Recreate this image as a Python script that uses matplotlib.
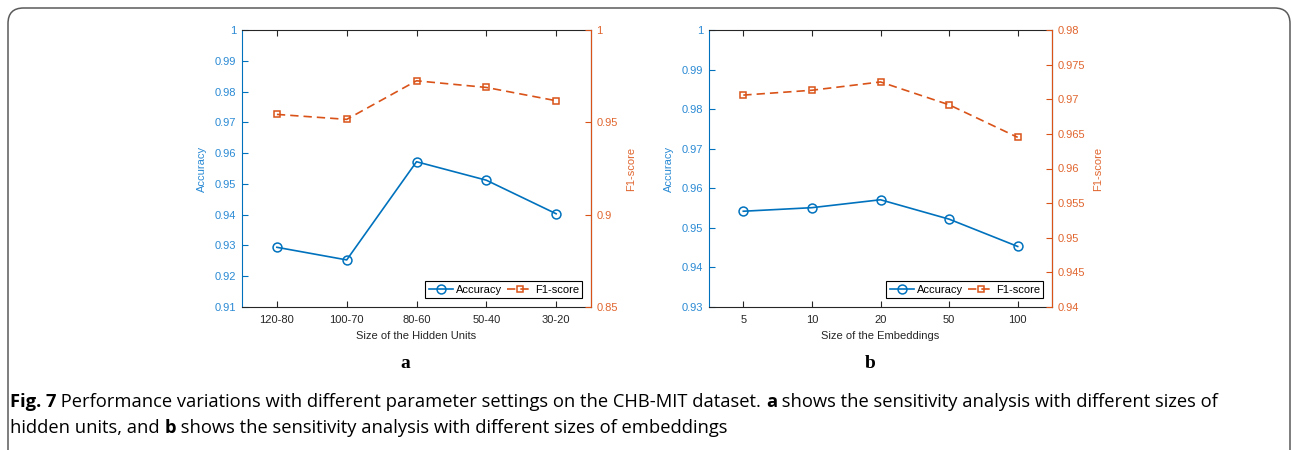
import matplotlib
matplotlib.use("Agg")
import matplotlib.pyplot as plt
from matplotlib.patches import FancyBboxPatch
from matplotlib.ticker import FixedLocator, FuncFormatter

# ---------------- data ----------------
hidden_labels = ["120-80", "100-70", "80-60", "50-40", "30-20"]
hidden_acc = [0.9294, 0.9253, 0.9572, 0.9512, 0.9403]
hidden_f1 = [0.9543, 0.9516, 0.9725, 0.9689, 0.9617]

emb_labels = ["5", "10", "20", "50", "100"]
emb_acc = [0.9542, 0.9551, 0.9571, 0.9522, 0.9453]
emb_f1 = [0.9706, 0.9713, 0.9725, 0.9692, 0.9645]

acc_ticks_a = [0.91, 0.92, 0.93, 0.94, 0.95, 0.96, 0.97, 0.98, 0.99, 1.0]
f1_ticks_a = [0.85, 0.9, 0.95, 1.0]
acc_ticks_b = [0.93, 0.94, 0.95, 0.96, 0.97, 0.98, 0.99, 1.0]
f1_ticks_b = [0.94, 0.945, 0.95, 0.955, 0.96, 0.965, 0.97, 0.975, 0.98]

BLUE = "#0072BD"
ORANGE = "#D95319"
BLUE_T = "#2a8ad4"
ORANGE_T = "#e0652e"
DARK = "#262626"

plt.rcParams["font.family"] = ["Liberation Sans", "DejaVu Sans"]
W, H = 1292, 450
fig = plt.figure(figsize=(W / 100, H / 100), dpi=100)

def fmt(v, pos):
    return ("%.4f" % v).rstrip("0").rstrip(".")

def panel(rect, labels, acc, f1, acc_ticks, f1_ticks, xlabel, letter, letter_x):
    ax = fig.add_axes(rect)
    x = list(range(1, len(labels) + 1))
    l1, = ax.plot(x, acc, color=BLUE, lw=1.2, marker="o", ms=6.4, mfc="none",
                  mew=1.1, label="Accuracy")
    ax.set_xlim(0.5, len(labels) + 0.5)
    ax.set_ylim(acc_ticks[0], acc_ticks[-1])
    ax.yaxis.set_major_locator(FixedLocator(acc_ticks))
    ax.yaxis.set_major_formatter(FuncFormatter(fmt))
    ax.set_xticks(x)
    ax.set_xticklabels(labels)
    ax.tick_params(axis="x", direction="in", length=4, top=True, colors=DARK,
                   labelsize=8, pad=6, labelcolor=DARK)
    ax.tick_params(axis="y", direction="in", length=4, colors=BLUE,
                   labelsize=8, labelcolor=BLUE_T, pad=4)
    ax.set_ylabel("Accuracy", color=BLUE_T, fontsize=8, labelpad=6)
    ax.set_xlabel(xlabel, color=DARK, fontsize=8, labelpad=4)
    for s in ("top", "bottom"):
        ax.spines[s].set_color(DARK)
        ax.spines[s].set_linewidth(0.8)
    ax.spines["left"].set_color(BLUE)
    ax.spines["left"].set_linewidth(0.8)

    ax2 = ax.twinx()
    l2, = ax2.plot(x, f1, color=ORANGE, lw=1.2, ls=(0, (5, 3)), marker="s",
                   ms=4.8, mfc="none", mew=1.1, label="F1-score")
    ax2.set_ylim(f1_ticks[0], f1_ticks[-1])
    ax2.yaxis.set_major_locator(FixedLocator(f1_ticks))
    ax2.yaxis.set_major_formatter(FuncFormatter(fmt))
    ax2.tick_params(axis="y", direction="in", length=4, colors=ORANGE,
                    labelsize=8, labelcolor=ORANGE_T, pad=4)
    ax2.set_ylabel("F1-score", color=ORANGE_T, fontsize=8, labelpad=6)
    ax2.spines["right"].set_color(ORANGE)
    ax2.spines["right"].set_linewidth(0.8)
    ax2.spines["left"].set_visible(False)
    for s in ("top", "bottom"):
        ax2.spines[s].set_visible(False)

    leg = ax2.legend([l1, l2], ["Accuracy", "F1-score"], loc="lower right",
                     ncol=2, fontsize=8, frameon=True, fancybox=False,
                     edgecolor="black", framealpha=1, borderpad=0.3,
                     handlelength=2.2, handletextpad=0.25, columnspacing=0.5,
                     borderaxespad=0.8)
    leg.get_frame().set_linewidth(0.8)

    fig.text(letter_x / W, 1 - 363 / H, letter, fontsize=14, fontweight="bold",
             family=["Liberation Serif"], ha="center", va="center")
    return ax

panel([242 / W, 1 - 307 / H, (591 - 242) / W, (307 - 30) / H],
      hidden_labels, hidden_acc, hidden_f1, acc_ticks_a, f1_ticks_a,
      "Size of the Hidden Units", "a", 405)
panel([709 / W, 1 - 307 / H, (1052 - 709) / W, (307 - 30) / H],
      emb_labels, emb_acc, emb_f1, acc_ticks_b, f1_ticks_b,
      "Size of the Embeddings", "b", 870)

# frame
border = FancyBboxPatch((8 / W, -0.1), (1290 - 8) / W, 1 - 8 / H + 0.1,
                        boxstyle="round,pad=0,rounding_size=0.012",
                        transform=fig.transFigure, fill=False,
                        edgecolor="#5a5a5a", linewidth=1.1,
                        mutation_aspect=W / H, clip_on=False)
fig.add_artist(border)

# caption with mixed weights
cap_font = ["Open Sans", "DejaVu Sans"]
cap_size = 13.2
renderer = fig.canvas.get_renderer()

def draw_line(pieces, x0, y0):
    x = x0
    for txt, bold in pieces:
        t = fig.text(x / W, 1 - y0 / H, txt, fontsize=cap_size,
                     fontweight="bold" if bold else "normal",
                     family=cap_font, ha="left", va="center")
        bb = t.get_window_extent(renderer=renderer)
        x += bb.width

line1 = [("Fig. 7", True),
         (" Performance variations with different parameter settings on the CHB-MIT dataset. ", False),
         ("a", True),
         (" shows the sensitivity analysis with different sizes of", False)]
line2 = [("hidden units, and ", False), ("b", True),
         (" shows the sensitivity analysis with different sizes of embeddings", False)]
draw_line(line1, 10, 402)
draw_line(line2, 10, 428)

fig.savefig("out.png", dpi=100)
